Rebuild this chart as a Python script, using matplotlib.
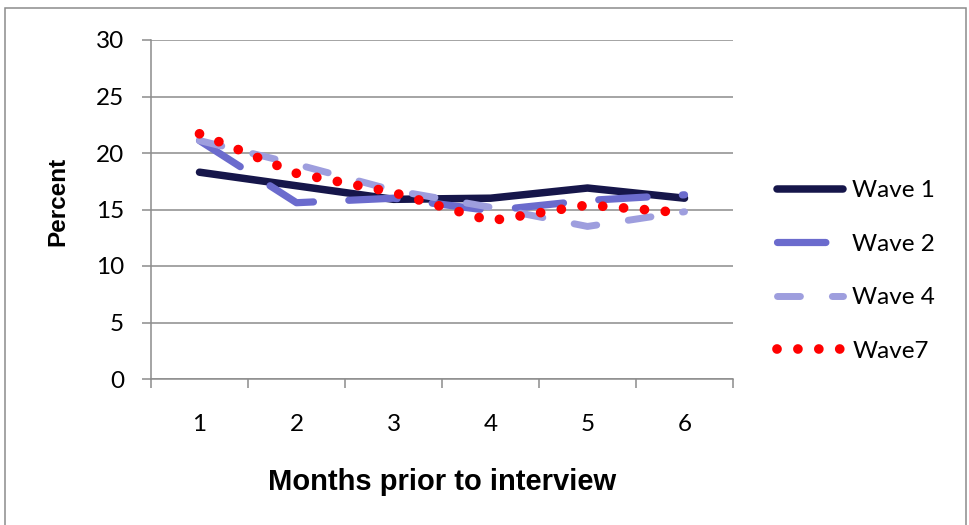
import matplotlib
matplotlib.use("Agg")
from matplotlib import pyplot as plt
from matplotlib.patches import Rectangle

months = [1, 2, 3, 4, 5, 6]
wave1 = [18.3, 17.1, 15.9, 16.0, 16.9, 16.0]
wave2 = [21.1, 15.6, 16.0, 14.9, 15.8, 16.3]
wave4 = [21.1, 19.0, 16.7, 15.2, 13.5, 14.8]
wave7 = [21.7, 18.2, 16.5, 14.0, 15.4, 14.7]
labels = ["Wave 1", "Wave 2", "Wave 4", "Wave7"]
yticks = [0, 5, 10, 15, 20, 25, 30]

W, H = 969, 525
grey = "#8c8c8c"
tick_font = "Lato"
label_font = "Liberation Sans"

fig = plt.figure(figsize=(W / 100, H / 100), dpi=100)
ax = fig.add_axes([151 / W, 1 - 379 / H, 582 / W, 339 / H])

ax.plot(months, wave1, color="#16164a", lw=5.4, solid_capstyle="round",
        label=labels[0])
ax.plot(months, wave2, color="#6b6bcd", lw=5.2, linestyle=(0, (6.7, 4.9)),
        dash_capstyle="round", label=labels[1])
ax.plot(months, wave4, color="#9e9ede", lw=5.0, linestyle=(0, (3.3, 4.6)),
        dash_capstyle="round", label=labels[2])
ax.plot(months, wave7, color="#ff0000", lw=7.0, linestyle=(0, (0.001, 2.15)),
        dash_capstyle="round", label=labels[3])

ax.set_xlim(0.5, 6.5)
ax.set_ylim(0, 30)
ax.set_yticks(yticks)
ax.set_xticks(months)
ax.set_xticks([m - 0.5 for m in months] + [6.5], minor=True)
ax.tick_params(axis="x", which="major", length=0, pad=25)
ax.tick_params(axis="x", which="minor", length=6.5, width=1.1, color=grey)
ax.tick_params(axis="y", length=6.5, width=1.1, color=grey, pad=13)
for t in ax.get_xticklabels() + ax.get_yticklabels():
    t.set_fontfamily(tick_font)
    t.set_fontsize(17.5)

ax.grid(axis="y", color=grey, lw=1.1)
ax.set_axisbelow(True)
for s in ["top", "right"]:
    ax.spines[s].set_visible(False)
for s in ["left", "bottom"]:
    ax.spines[s].set_color(grey)
    ax.spines[s].set_linewidth(1.1)

ax.set_ylabel("Percent", fontfamily=label_font, fontweight="bold",
              fontsize=17.5, va="center")
ax.yaxis.set_label_coords((58 - 151) / 582, (379 - 201) / 339)
fig.text(442 / W, 1 - 490 / H, "Months prior to interview", ha="center",
         va="baseline", fontfamily=label_font, fontweight="bold", fontsize=21)

ax.legend(loc="center left", bbox_to_anchor=(777 / W, 1 - 271 / H),
          bbox_transform=fig.transFigure, frameon=False, borderpad=0,
          borderaxespad=0, handlelength=2.7, handletextpad=0.4,
          labelspacing=1.33, prop={"family": tick_font, "size": 17.5})

fig.patches.append(Rectangle((5 / W, -0.02), 961 / W, 1.02 - 8 / H,
                             transform=fig.transFigure, fill=False,
                             edgecolor=grey, lw=1.1))

fig.savefig("out.png", dpi=100)
